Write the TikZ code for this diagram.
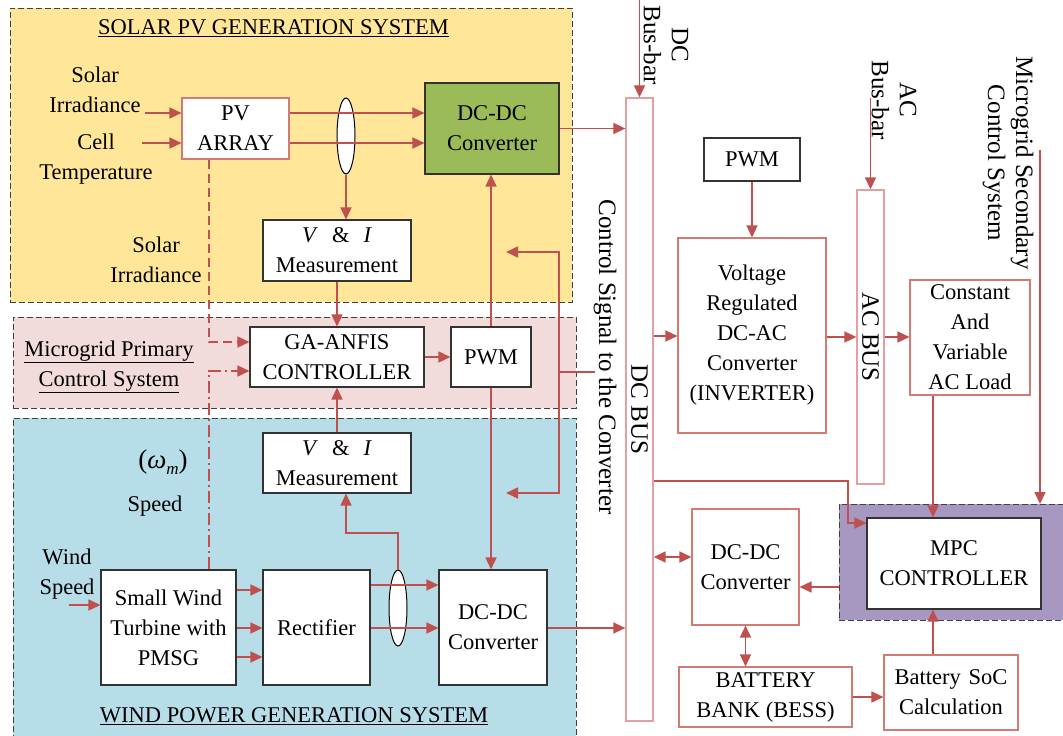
\documentclass[tikz,border=0pt]{standalone}
\usepackage{fontspec}
\setmainfont{Liberation Serif}
\usetikzlibrary{arrows.meta,shapes.geometric}
\definecolor{lred}{RGB}{192,80,77}
\definecolor{bred}{RGB}{214,120,116}
\definecolor{busred}{RGB}{228,160,158}
\definecolor{yel}{RGB}{255,230,153}
\definecolor{pnk}{RGB}{242,220,219}
\definecolor{blu}{RGB}{183,222,232}
\definecolor{pur}{RGB}{167,152,193}
\definecolor{grn}{RGB}{155,187,89}
\begin{document}
\begin{tikzpicture}[x=1pt,y=-1pt,
  font=\fontsize{22.5}{30}\selectfont,
  region/.style={draw=black!75, dash pattern=on 6pt off 3pt, line width=0.9pt, inner sep=0pt, outer sep=0pt},
  bbox/.style={draw=black!80, fill=white, line width=1.1pt, align=center, inner sep=0pt},
  rbox/.style={draw=bred, fill=white, line width=1.1pt, align=center, inner sep=0pt},
  bus/.style={draw=busred, fill=white, line width=1.3pt, inner sep=0pt},
  conn/.style={draw=lred, line width=1.6pt},
  arr/.style={conn, -{Triangle[length=12pt,width=11pt]}},
  darr/.style={conn, {Triangle[length=12pt,width=11pt]}-{Triangle[length=12pt,width=11pt]}},
  lbl/.style={align=center, inner sep=0pt},
  vlbl/.style={align=center, inner sep=0pt, rotate=-90, font=\fontsize{25}{28}\selectfont},
  ell/.style={ellipse, draw=black, fill=white, line width=1pt, inner sep=0pt, minimum width=18pt, minimum height=76pt}
]
\useasboundingbox (0,0) rectangle (1063,736);
\clip (0,0) rectangle (1063,736);
\fill[white] (0,0) rectangle (1063,736);

% regions
\node[region, fill=yel, minimum width=562, minimum height=294] (solar) at (291,155) {};
\node[region, fill=pnk, minimum width=563, minimum height=91] (prim) at (294.5,362.5) {};
\node[region, fill=blu, minimum width=563, minimum height=330] (wind) at (294.5,583) {};
\node[region, fill=pur, minimum width=230, minimum height=116] (purple) at (954,562) {};

% labels
\node[lbl] (t1) at (273.5,28) {\underline{SOLAR PV GENERATION SYSTEM}};
\node[lbl] (si1) at (95,90) {Solar\\Irradiance};
\node[lbl] (ct) at (96,159) {Cell\\Temperature};
\node[lbl] (si2) at (156,260) {Solar\\Irradiance};
\node[lbl] (mp) at (109,367) {\underline{Microgrid Primary}\\\underline{Control System}};
\node[lbl, font=\fontsize{27}{30}\selectfont] (om) at (163,462) {(\textit{ω}\raisebox{-6pt}{\fontsize{17}{20}\selectfont\textit{m}})};
\node[lbl] (sp) at (155,506) {Speed};
\node[lbl] (ws) at (67,574) {Wind\\Speed};
\node[lbl] (t2) at (294,716) {\underline{WIND POWER GENERATION SYSTEM}};
\node[vlbl] (dcbb) at (666,45) {DC\\Bus-bar};
\node[vlbl] (acbb) at (894,100) {AC\\Bus-bar};
\node[vlbl] (csl) at (605,357) {Control Signal to the Converter};
\node[vlbl] (msc) at (1008,163) {Microgrid Secondary\\Control System};

% ellipses
\node[ell] (e1) at (346,136) {};
\node[ell] (e2) at (398,608) {};

% boxes
\node[rbox, minimum width=107, minimum height=61] (pv) at (235.5,128.5) {PV\\ARRAY};
\node[bbox, fill=grn, minimum width=134, minimum height=91] (dcdc1) at (492,128.5) {DC-DC\\Converter};
\node[bbox, minimum width=148, minimum height=61] (vi1) at (337,250.5) {\textit{V}\hspace{14pt}\&\hspace{14pt}\textit{I}\\Measurement};
\node[bbox, minimum width=174, minimum height=60] (ga) at (337,357) {GA-ANFIS\\CONTROLLER};
\node[bbox, minimum width=80, minimum height=60] (pwm1) at (491,357) {PWM};
\node[bbox, minimum width=148, minimum height=60] (vi2) at (337,463) {\textit{V}\hspace{14pt}\&\hspace{14pt}\textit{I}\\Measurement};
\node[bbox, minimum width=135, minimum height=115] (wt) at (168.5,627.5) {Small Wind\\Turbine with\\PMSG};
\node[bbox, minimum width=107, minimum height=115] (rect) at (316.5,627.5) {Rectifier};
\node[bbox, minimum width=108, minimum height=115] (dcdc2) at (493,627.5) {DC-DC\\Converter};
\node[bus, minimum width=27, minimum height=623] (dcbus) at (639.5,409.5) {};
\node[vlbl] (dcbusl) at (dcbus.center) {DC BUS};
\node[bbox, minimum width=96, minimum height=43] (pwm2) at (752,159.5) {PWM};
\node[rbox, minimum width=148, minimum height=195] (inv) at (752,335.5) {Voltage\\Regulated\\DC-AC\\Converter\\(INVERTER)};
\node[bus, minimum width=27, minimum height=294] (acbus) at (870.5,337) {};
\node[vlbl] (acbusl) at (acbus.center) {AC BUS};
\node[rbox, minimum width=120, minimum height=115] (load) at (970,337.5) {Constant\\And\\Variable\\AC Load};
\node[bbox, minimum width=174, minimum height=91] (mpc) at (954,563.5) {MPC\\CONTROLLER};
\node[rbox, minimum width=107, minimum height=116] (dcdc3) at (745.5,567) {DC-DC\\Converter};
\node[rbox, minimum width=173, minimum height=60] (bat) at (765.5,697) {BATTERY\\BANK (BESS)};
\node[rbox, minimum width=134, minimum height=75] (soc) at (951,692.5) {Battery\hspace{8pt}SoC\\Calculation};

% solar connectors
\coordinate (siA) at (145,113);
\coordinate (ctA) at (142,143);
\draw[arr] (siA) -- (pv.west |- siA);
\draw[arr] (ctA) -- (pv.west |- ctA);
\draw[arr] (pv.east |- siA) -- (dcdc1.west |- siA);
\draw[arr] (pv.east |- ctA) -- (dcdc1.west |- ctA);
\draw[arr] (e1.south) -- (e1.south |- vi1.north);
\draw[arr] (vi1.south) -- (ga.north);
\draw[arr] (ga.east) -- (pwm1.west);
\draw[arr] (pwm1.north) -- (pwm1.north |- dcdc1.south);
\draw[arr] (pwm1.south) -- (pwm1.south |- dcdc2.north);
\draw[arr] (dcdc1.east) -- (dcbus.west |- dcdc1.east);

% control signal
\coordinate (csT) at (506,252);
\coordinate (csB) at (506,493);
\coordinate (csJ) at (559,372);
\coordinate (csS) at (595,372);
\draw[conn] (csS) -- (csJ);
\draw[arr] (csJ) |- (csT);
\draw[arr] (csJ) |- (csB);

% dashed measurement lines
\coordinate (dA) at (209,342);
\coordinate (dB) at (209,371);
\draw[arr, dash pattern=on 9pt off 5pt] (pv.south -| dA) -- (dA) -- (ga.west |- dA);
\draw[arr, dash pattern=on 12pt off 4pt on 2pt off 4pt] (wt.north -| dB) -- (dB) -- (ga.west |- dB);

% wind connectors
\coordinate (wsA) at (69,605);
\draw[arr] (wsA) -- (wt.west |- wsA);
\draw[arr] (wt.east |- 0,590) -- (rect.west |- 0,590);
\draw[arr] (wt.east |- 0,628) -- (rect.west |- 0,628);
\draw[arr] (wt.east |- 0,657) -- (rect.west |- 0,657);
\draw[arr] (rect.east |- 0,585) -- (dcdc2.west |- 0,585);
\draw[arr] (rect.east |- 0,628) -- (dcdc2.west |- 0,628);
\draw[arr] (e2.north) |- (346,533) -- (vi2.south -| 346,0);
\draw[arr] (vi2.north) -- (ga.south);
\draw[arr] (dcdc2.east |- 0,628) -- (dcbus.west |- 0,628);

% right side
\draw[arr] (dcbus.north |- 0,-2) -- (dcbus.north);
\draw[arr] (pwm2.south) -- (inv.north);
\draw[arr] (dcbus.east |- 0,336) -- (inv.west |- 0,336);
\draw[arr] (inv.east |- 0,337) -- (acbus.west |- 0,337);
\draw[arr] (acbus.north |- 0,98) -- (acbus.north);
\draw[arr] (acbus.east |- 0,337) -- (load.west |- 0,337);
\draw[arr] (purple.north -| 1040,0) ++(0,-354) -- (purple.north -| 1040,0);
\draw[arr] (load.south -| 933,0) -- (mpc.north -| 933,0);
\draw[arr] (dcbus.east |- 0,481) -| (848,523) -- (mpc.west |- 0,523);
\draw[darr] (dcbus.east |- 0,557) -- (dcdc3.west |- 0,557);
\draw[arr] (purple.west |- 0,587) -- (dcdc3.east |- 0,587);
\draw[darr] (dcdc3.south) -- (dcdc3.south |- bat.north);
\draw[arr] (bat.east) -- (soc.west |- bat.east);
\draw[arr] (soc.north -| 933,0) -- (mpc.south -| 933,0);
\end{tikzpicture}
\end{document}
